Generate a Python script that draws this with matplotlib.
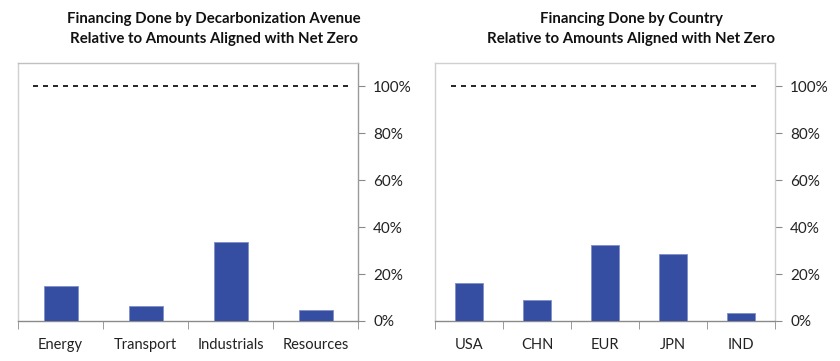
import matplotlib.pyplot as plt
import numpy as np

# 数据
sectors = ['Energy', 'Transport', 'Industrials', 'Resources']
sector_vals = [0.15, 0.062, 0.335, 0.047]
countries = ['USA', 'CHN', 'EUR', 'JPN', 'IND']
country_vals = [0.164, 0.088, 0.322, 0.286, 0.033]
titles = ['Financing Done by Decarbonization Avenue\nRelative to Amounts Aligned with Net Zero',
          'Financing Done by Country\nRelative to Amounts Aligned with Net Zero']
yticks = [0, 0.2, 0.4, 0.6, 0.8, 1.0]

plt.rcParams['font.family'] = ['Lato', 'DejaVu Sans']
bar_color = '#364ea1'

fig = plt.figure(figsize=(8.4, 3.61), dpi=100)
ax1 = fig.add_axes([18 / 840, 1 - 321 / 361, 340 / 840, 258 / 361])
ax2 = fig.add_axes([435 / 840, 1 - 321 / 361, 340 / 840, 258 / 361])

panels = [(ax1, sectors, sector_vals, (-0.32, 3.4), 214, titles[0]),
          (ax2, countries, country_vals, (-0.26, 4.24), 631, titles[1])]

for ax, cats, vals, dash, tx, title in panels:
    x = np.arange(len(cats))
    ax.bar(x, vals, width=0.4, color=bar_color, edgecolor='#7f8fc8', linewidth=0.6, zorder=3)
    # 100% 虚线
    ax.plot(dash, [1.0, 1.0], color='black', linestyle=(0, (3, 3)), linewidth=1.2)
    ax.set_xlim(-0.5, len(cats) - 0.5)
    ax.set_ylim(0, 1.1)

    # 边框
    ax.spines['left'].set_color('#d0d0d0')
    ax.spines['top'].set_color('#c0c0c0')
    ax.spines['right'].set_color('#9a9a9a')
    ax.spines['bottom'].set_color('#8a8a8a')
    for s in ax.spines.values():
        s.set_linewidth(1.0)

    # x 轴：类别之间的刻度
    ax.set_xticks(x)
    ax.set_xticklabels(cats, fontsize=10.5, color='#222222')
    ax.tick_params(axis='x', which='major', length=0, pad=12)
    ax.set_xticks(np.arange(len(cats) + 1) - 0.5, minor=True)
    ax.tick_params(axis='x', which='minor', length=6, color='#8a8a8a', direction='out')

    # y 轴在右边
    ax.yaxis.tick_right()
    ax.set_yticks(yticks)
    ax.set_yticklabels(['%d%%' % round(v * 100) for v in yticks], fontsize=11, color='#222222')
    ax.tick_params(axis='y', length=5, color='#8a8a8a', pad=6)

    # 标题
    fig.text(tx / 840, 1 - 12 / 361, title, ha='center', va='top', fontsize=10.8,
             fontweight='bold', color='#111111', linespacing=1.5)

ax2.spines['right'].set_color('#d0d0d0')
ax2.spines['top'].set_color('#d0d0d0')

fig.savefig('out.png', dpi=100)
